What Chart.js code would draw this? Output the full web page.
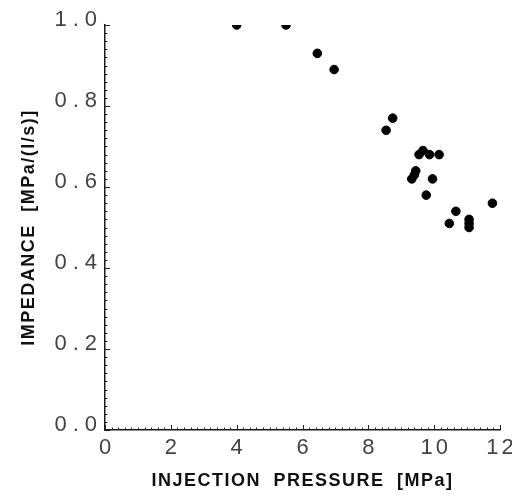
<!DOCTYPE html>
<html><head><meta charset="utf-8">
<script src="https://cdn.jsdelivr.net/npm/chart.js@4/dist/chart.umd.min.js"></script>
<style>html,body{margin:0;padding:0;background:#fff}#wrap{width:512px;height:496px}</style>
</head><body><div id="wrap"><canvas id="c" width="512" height="496"></canvas></div>
<script>
const pressure = [4.0, 5.5, 6.45, 6.96, 8.74, 8.54, 9.66, 9.54, 9.86, 10.15, 9.44, 9.40, 9.32, 9.95, 9.76, 11.77, 10.66, 10.46, 11.06, 11.06, 11.06];
const impedance = [1.0, 1.0, 0.93, 0.89, 0.77, 0.74, 0.69, 0.68, 0.68, 0.68, 0.64, 0.63, 0.62, 0.62, 0.58, 0.56, 0.54, 0.51, 0.52, 0.51, 0.50];
const xTicks = [0, 2, 4, 6, 8, 10, 12];
const yTicks = [0.0, 0.2, 0.4, 0.6, 0.8, 1.0];

const pts = pressure.map((x, i) => ({x, y: impedance[i]}));

// spacing for texts drawn by the scales
const origDrawTitle = Chart.Scale.prototype.drawTitle;
Chart.Scale.prototype.drawTitle = function () {
  const ctx = this.ctx; ctx.save();
  ctx.letterSpacing = '1.5px'; ctx.wordSpacing = '6px';
  origDrawTitle.apply(this, arguments); ctx.restore();
};
const origDrawLabels = Chart.Scale.prototype.drawLabels;
Chart.Scale.prototype.drawLabels = function () {
  const ctx = this.ctx; ctx.save();
  ctx.letterSpacing = this.isHorizontal() ? '3px' : '6px';
  origDrawLabels.apply(this, arguments); ctx.restore();
};

const inwardTicks = {
  id: 'inwardTicks',
  afterDraw(chart) {
    const ctx = chart.ctx, xs = chart.scales.x, ys = chart.scales.y;
    const y0 = ys.getPixelForValue(0), x0 = xs.getPixelForValue(0);
    ctx.save();
    ctx.strokeStyle = '#222';
    ctx.lineWidth = 1;
    for (let i = 0; i <= 60; i++) {
      const v = i * 0.2;
      const px = Math.round(xs.getPixelForValue(v)) + 0.5;
      const len = (i % 10 === 0) ? 5 : 2.5;
      ctx.beginPath(); ctx.moveTo(px, y0); ctx.lineTo(px, y0 - len); ctx.stroke();
    }
    for (let i = 0; i <= 50; i++) {
      const v = i * 0.02;
      const py = Math.round(ys.getPixelForValue(v)) + 0.5;
      const len = (i % 10 === 0) ? 5 : 2.5;
      ctx.beginPath(); ctx.moveTo(x0, py); ctx.lineTo(x0 + len, py); ctx.stroke();
    }
    ctx.restore();
  }
};

const tickFont = { family: "'Liberation Sans Narrow', 'Liberation Sans'", size: 22, weight: 'normal' };
const titleFont = { family: "'Liberation Sans'", size: 18, weight: 'bold' };

new Chart(document.getElementById('c'), {
  type: 'scatter',
  data: { datasets: [{ data: pts, backgroundColor: '#000', borderColor: '#000', pointRadius: 4.3, pointHoverRadius: 4.3 }] },
  options: {
    responsive: false,
    animation: false,
    layout: { padding: { top: 25, right: 12, left: 0, bottom: 0 } },
    plugins: { legend: { display: false }, tooltip: { enabled: false } },
    scales: {
      x: {
        type: 'linear', min: 0, max: 12,
        afterBuildTicks: s => { s.ticks = xTicks.map(v => ({value: v})); },
        afterFit: s => { s.height = 66; s.paddingLeft = 0; s.paddingRight = 0; },
        grid: { display: false, drawTicks: false },
        border: { display: true, color: '#1a1a1a', width: 1.5 },
        ticks: { padding: 5, labelOffset: 1.5, color: '#444', font: tickFont, maxRotation: 0, autoSkip: false, callback: v => String(v) },
        title: { display: true, text: 'INJECTION PRESSURE [MPa]', color: '#111', font: titleFont, padding: { top: 4, bottom: 4 } }
      },
      y: {
        type: 'linear', min: 0, max: 1.0,
        afterBuildTicks: s => { s.ticks = yTicks.map(v => ({value: v})); },
        afterFit: s => { s.width = 105; s.paddingTop = 0; s.paddingBottom = 0; },
        grid: { display: false, drawTicks: false },
        border: { display: true, color: '#1a1a1a', width: 1.5 },
        ticks: { padding: 2, labelOffset: -5, color: '#444', font: tickFont, autoSkip: false, callback: v => Number(v).toFixed(1) },
        title: { display: true, text: 'IMPEDANCE [MPa/(l/s)]', color: '#111', font: titleFont, padding: { top: 18, bottom: 4 } }
      }
    }
  },
  plugins: [inwardTicks]
});
</script></body></html>
